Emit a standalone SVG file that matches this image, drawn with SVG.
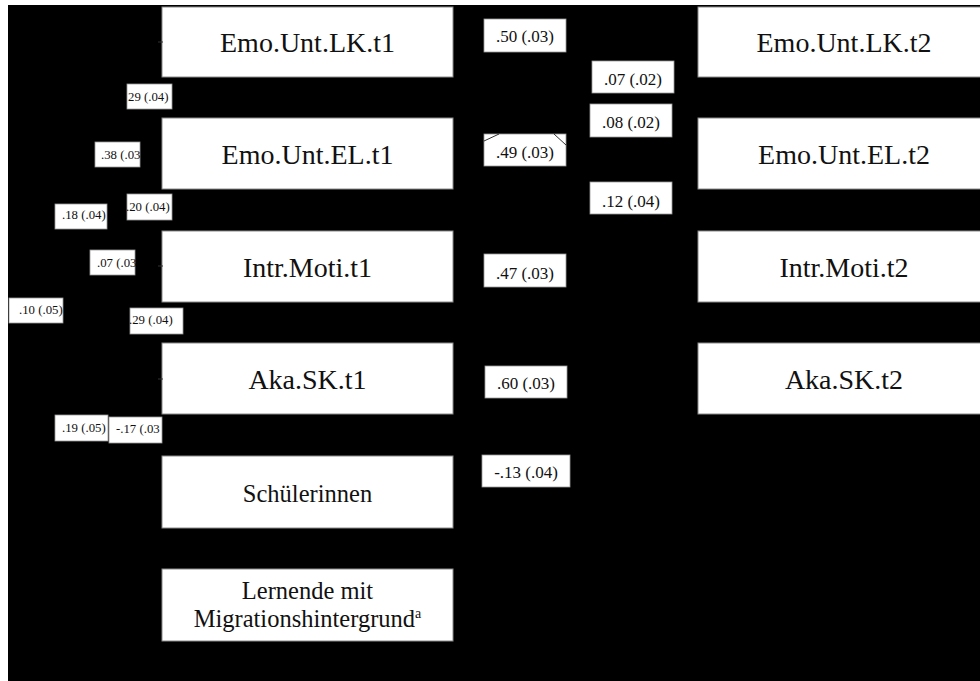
<svg xmlns="http://www.w3.org/2000/svg" width="980" height="681" viewBox="0 0 980 681">
<style>
.box{fill:#fff;stroke:#8a8a8a;stroke-width:1}
.nt{font-family:"Liberation Serif","Times New Roman",serif;font-size:28px;fill:#111;text-anchor:middle}
.nt2{font-family:"Liberation Serif","Times New Roman",serif;font-size:24.5px;fill:#111;text-anchor:middle}
.lb{fill:#fff;stroke:#9a9a9a;stroke-width:0.8}
.lt{font-family:"Liberation Serif","Times New Roman",serif;font-size:17px;fill:#111;text-anchor:middle}
.ls{font-family:"Liberation Serif","Times New Roman",serif;font-size:12.8px;fill:#111}
.cn{stroke:#333;stroke-width:1;fill:none}
</style>
<rect x="0" y="0" width="980" height="681" fill="#fff"/>
<rect x="8" y="5" width="972" height="676" fill="#000"/>

<g id="n_lk1"><rect class="box" x="162" y="7" width="291" height="70"/><text class="nt" x="307.5" y="52">Emo.Unt.LK.t1</text></g>
<g id="n_el1"><rect class="box" x="162" y="118" width="291" height="71"/><text class="nt" x="307.5" y="164">Emo.Unt.EL.t1</text></g>
<g id="n_im1"><rect class="box" x="162" y="231" width="291" height="71"/><text class="nt" x="307.5" y="277">Intr.Moti.t1</text></g>
<g id="n_sk1"><rect class="box" x="162" y="343" width="291" height="71"/><text class="nt" x="307.5" y="389">Aka.SK.t1</text></g>
<g id="n_sch"><rect class="box" x="162" y="456" width="291" height="72"/><text class="nt2" x="307.5" y="502">Schülerinnen</text></g>
<g id="n_mig"><rect class="box" x="162" y="569" width="291" height="72"/><text class="nt2" x="307.5" y="599">Lernende mit</text><text class="nt2" x="307.5" y="627">Migrationshintergrund<tspan font-size="14" dy="-9">a</tspan></text></g>

<g id="n_lk2"><rect class="box" x="698" y="7" width="292" height="70"/><text class="nt" x="844" y="52">Emo.Unt.LK.t2</text></g>
<g id="n_el2"><rect class="box" x="698" y="118" width="292" height="71"/><text class="nt" x="844" y="164">Emo.Unt.EL.t2</text></g>
<g id="n_im2"><rect class="box" x="698" y="231" width="292" height="71"/><text class="nt" x="844" y="277">Intr.Moti.t2</text></g>
<g id="n_sk2"><rect class="box" x="698" y="343" width="292" height="71"/><text class="nt" x="844" y="389">Aka.SK.t2</text></g>

<g id="labels">
<rect class="lb" x="484" y="19" width="82" height="33"/><text class="lt" x="525" y="42">.50 (.03)</text>
<rect class="lb" x="592" y="61" width="82" height="32"/><text class="lt" x="633" y="85">.07 (.02)</text>
<rect class="lb" x="590" y="104" width="82" height="33"/><text class="lt" x="631" y="128">.08 (.02)</text>
<rect class="lb" x="484" y="134" width="82" height="32"/><text class="lt" x="525" y="158">.49 (.03)</text>
<rect class="lb" x="590" y="182" width="82" height="32"/><text class="lt" x="631" y="207">.12 (.04)</text>
<rect class="lb" x="484" y="254" width="82" height="33"/><text class="lt" x="525" y="279">.47 (.03)</text>
<rect class="lb" x="485" y="366" width="82" height="32"/><text class="lt" x="526" y="389">.60 (.03)</text>
<rect class="lb" x="482" y="455" width="88" height="32"/><text class="lt" x="526" y="478">-.13 (.04)</text>

<rect class="lb" x="127" y="84" width="45" height="25"/><text class="ls" x="128" y="101">29 (.04)</text>
<rect class="lb" x="95" y="142" width="45" height="25"/><text class="ls" x="101" y="159">.38 (.03</text>
<rect class="lb" x="127" y="194" width="45" height="26"/><text class="ls" x="126" y="211">.20 (.04)</text>
<rect class="lb" x="55" y="204" width="52" height="25"/><text class="ls" x="62" y="219">.18 (.04)</text>
<rect class="lb" x="90" y="250" width="45" height="25"/><text class="ls" x="97" y="267">.07 (.03</text>
<rect class="lb" x="9" y="298" width="54" height="25"/><text class="ls" x="19" y="314">.10 (.05)</text>
<rect class="lb" x="130" y="308" width="53" height="26"/><text class="ls" x="129" y="324">.29 (.04)</text>
<rect class="lb" x="55" y="415" width="53" height="26"/><text class="ls" x="62" y="432">.19 (.05)</text>
<rect class="lb" x="109" y="417" width="53" height="26"/><text class="ls" x="116" y="433">-.17 (.03</text>
</g>

<g id="connectors">
<line class="cn" x1="484" y1="141" x2="499" y2="134"/>
<line class="cn" x1="554" y1="134" x2="566" y2="145"/>
<line class="cn" x1="158" y1="42" x2="163" y2="42"/>
<line class="cn" x1="158" y1="266" x2="163" y2="266"/>
<line class="cn" x1="158" y1="379" x2="163" y2="379"/>
</g>
</svg>
